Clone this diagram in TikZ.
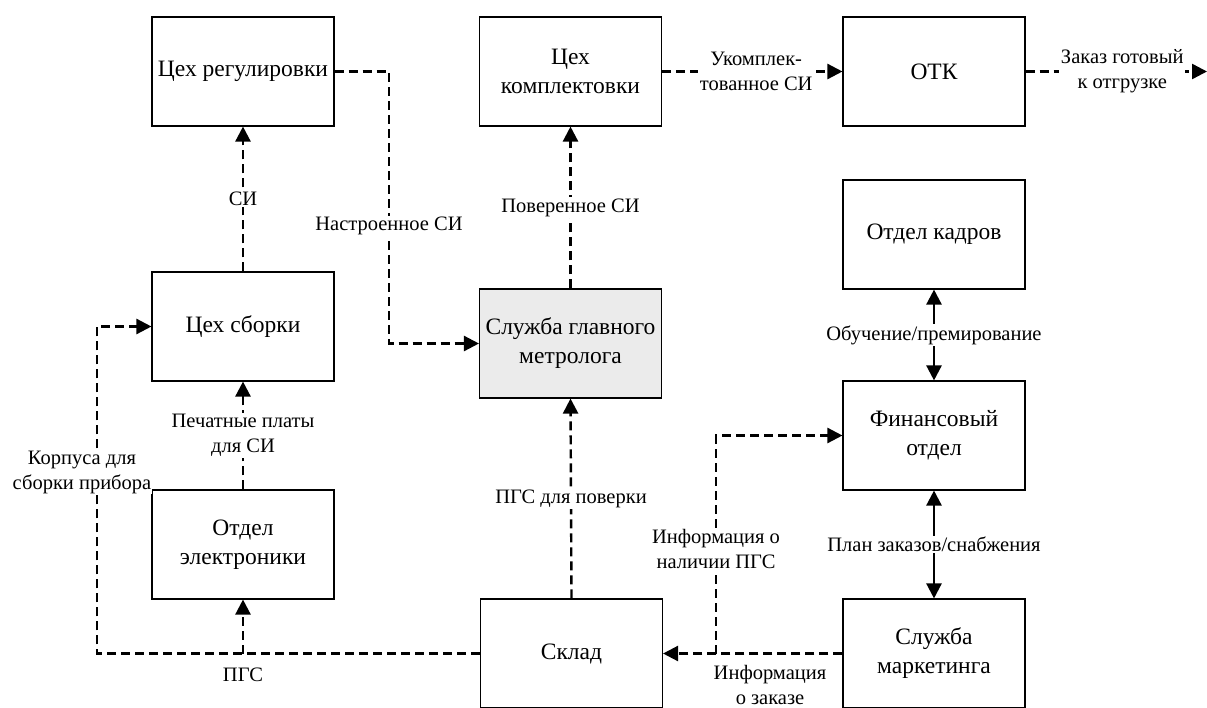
\documentclass[tikz,border=0pt]{standalone}
\usepackage{fontspec}
\setmainfont{Liberation Serif}
\usetikzlibrary{arrows.meta}
\definecolor{metrfill}{HTML}{EBEBEB}
\begin{document}
\begin{tikzpicture}[x=1pt,y=-1pt,
  box/.style={draw, line width=1.1pt, minimum width=182pt, minimum height=109pt, inner sep=0pt, align=center, font=\fontsize{23.5}{29}\selectfont},
  flow/.style={line width=2.4pt, dash pattern=on 9pt off 5pt, -{Triangle[length=15pt,width=15pt]}},
  both/.style={line width=2.4pt, {Triangle[length=15pt,width=15pt]}-{Triangle[length=15pt,width=15pt]}},
  lbl/.style={fill=white, inner sep=1.5pt, align=center, font=\fontsize{20.5}{25}\selectfont}]
\useasboundingbox (0,0) rectangle (1207,707);
% boxes
\node[box] (reg)   at (243,71.5)   {Цех регулировки};
\node[box] (kompl) at (570.5,71.5) {Цех\\комплектовки};
\node[box] (otk)   at (934,71.5)   {ОТК};
\node[box] (kadr)  at (934,234.5)  {Отдел кадров};
\node[box] (sbor)  at (243,326.5)  {Цех сборки};
\node[box, fill=metrfill] (metr) at (570.5,343.5) {Служба главного\\метролога};
\node[box] (fin)   at (934,435.5)  {Финансовый\\отдел};
\node[box] (elec)  at (243,544.5)  {Отдел\\электроники};
\node[box] (sklad) at (571.5,653.5){Склад};
\node[box] (mark)  at (934,653.5)  {Служба\\маркетинга};
\coordinate (outR) at (1207,71.5);
\coordinate (cA) at (389,71.5);
\coordinate (cB) at (716,653.5);
\coordinate (cC) at (97,653.5);
\coordinate (cD) at (243,653.5);
% connectors
\draw[flow] (reg.east) -- (cA) |- (metr.west);
\node[lbl] (lNastr) at (389,226) {Настроенное СИ};
\draw[flow] (sbor.north) -- node[lbl] (lSI) {СИ} (reg.south);
\draw[flow] (metr.north) -- node[lbl] (lPov) {Поверенное СИ} (kompl.south);
\draw[flow] (kompl.east) -- node[lbl, xshift=4pt] (lUk) {Укомплек-\\тованное СИ} (otk.west);
\draw[flow] (otk.east) -- node[lbl, xshift=6pt] (lZak) {Заказ готовый\\к отгрузке} (outR);
\draw[both] (kadr.south) -- node[lbl] (lObuch) {Обучение/премирование} (fin.north);
\draw[both] (fin.south) -- node[lbl] (lPlan) {План заказов/снабжения} (mark.north);
\draw[flow] (mark.west) -- (sklad.east);
\node[lbl, fill=none] (lInfZ) at (770,685) {Информация\\о заказе};
\draw[flow] (cB) |- (fin.west);
\node[lbl] (lInfP) at (716,549) {Информация о\\наличии ПГС};
\draw[flow] (sklad.north) -- node[lbl] (lPGSp) {ПГС для поверки} (metr.south);
\draw[flow] (sklad.west) -- (cC) |- (sbor.west);
\node[lbl, inner sep=1pt] (lKorp) at (82,472) {Корпуса для\\сборки прибора};
\draw[flow] (cD) -- (elec.south);
\node[lbl, fill=none] (lPGS) at (243,675) {ПГС};
\draw[flow] (elec.north) -- node[lbl] (lPech) {Печатные платы\\для СИ} (sbor.south);
\end{tikzpicture}
\end{document}
